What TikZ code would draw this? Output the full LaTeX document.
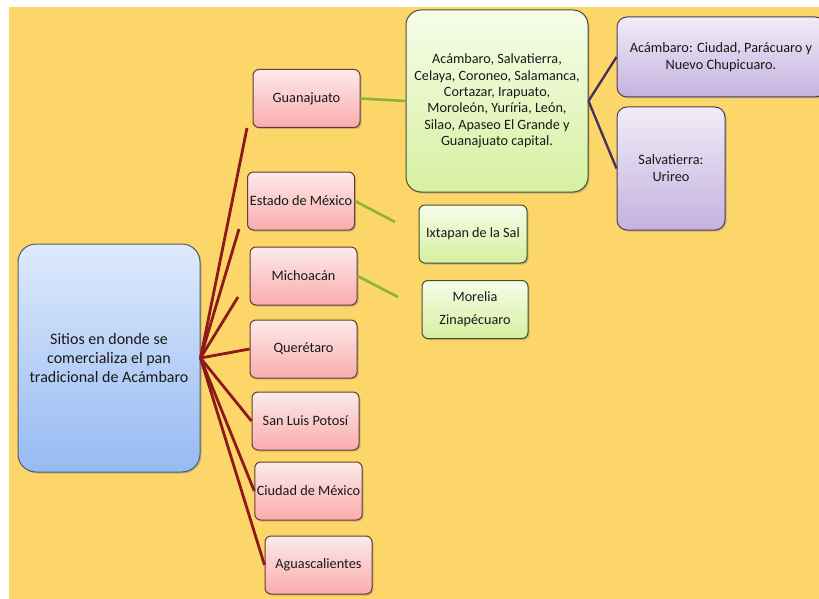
\documentclass[tikz,border=0pt]{standalone}
\usepackage{fontspec}
\setmainfont{Carlito}
\usetikzlibrary{shadows}

\definecolor{bgyellow}{RGB}{252,214,104}
\definecolor{pinktop}{RGB}{252,234,234}
\definecolor{pinkbot}{RGB}{250,172,172}
\definecolor{pinkline}{RGB}{100,60,50}
\definecolor{greentop}{RGB}{247,252,234}
\definecolor{greenbot}{RGB}{214,240,160}
\definecolor{greenline}{RGB}{70,80,40}
\definecolor{violettop}{RGB}{241,236,248}
\definecolor{violetbot}{RGB}{196,178,222}
\definecolor{violetline}{RGB}{80,60,90}
\definecolor{bluetop}{RGB}{222,234,252}
\definecolor{bluebot}{RGB}{150,186,242}
\definecolor{blueline}{RGB}{80,90,110}
\definecolor{redlink}{RGB}{140,26,26}
\definecolor{greenlink}{RGB}{140,180,60}
\definecolor{violetlink}{RGB}{70,45,90}

\begin{document}
\begin{tikzpicture}[x=1pt,y=-1pt,
  box/.style={rectangle, line width=1pt, align=center, inner sep=2pt, text=black!90,
    drop shadow={shadow xshift=1.5pt, shadow yshift=-1.5pt, opacity=0.4}},
  statebox/.style={box, rounded corners=6pt, top color=pinktop, bottom color=pinkbot,
    draw=pinkline, minimum width=107pt, minimum height=58pt, font=\fontsize{14.3}{16}\selectfont},
  citybox/.style={box, rounded corners=6pt, top color=greentop, bottom color=greenbot,
    draw=greenline, font=\fontsize{14.2}{16.4}\selectfont},
  townbox/.style={box, rounded corners=10pt, top color=violettop, bottom color=violetbot,
    draw=violetline, font=\fontsize{14.3}{17}\selectfont},
  redline/.style={redlink, line width=2.8pt},
  greenedge/.style={greenlink, line width=2.6pt},
  violetedge/.style={violetlink, line width=2.3pt}]

        % Background
        \useasboundingbox (0,0) rectangle (819,599);
        \fill[bgyellow] (9,7) rectangle (819,599);

        % Root node
        \node[box, rounded corners=18pt, top color=bluetop, bottom color=bluebot, draw=blueline,
          minimum width=182pt, minimum height=228pt, font=\fontsize{16}{19}\selectfont]
          (root) at (109,358) {Sitios en donde se\\comercializa el pan\\tradicional de Acámbaro};

        % States
        \node[statebox] (guan) at (306.5,98.5) {Guanajuato};
        \node[statebox] (edomex) at (301,201) {Estado de México};
        \node[statebox] (mich) at (303.5,276) {Michoacán};
        \node[statebox] (quer) at (303.5,349) {Querétaro};
        \node[statebox] (slp) at (305.5,421) {San Luis Potosí};
        \node[statebox] (cdmx) at (308.5,491) {Ciudad de México};
        \node[statebox] (ags) at (318.5,565) {Aguascalientes};

        % Cities
        \node[citybox, rounded corners=15pt, minimum width=182pt, minimum height=182pt] (gtocities) at (497,101)
          {Acámbaro, Salvatierra,\\Celaya, Coroneo, Salamanca,\\Cortazar, Irapuato,\\Moroleón, Yuríria, León,\\Silao, Apaseo El Grande y\\Guanajuato capital.};
        \node[citybox, minimum width=108pt, minimum height=58pt] (ixtapan) at (473,234) {Ixtapan de la Sal};
        \node[citybox, minimum width=106pt, minimum height=58pt, font=\fontsize{14.2}{23}\selectfont]
          (morelia) at (475,309.5) {Morelia\\Zinapécuaro};

        % Towns
        \node[townbox, minimum width=208pt, minimum height=80pt] (acambaro) at (721,57)
          {Acámbaro: Ciudad, Parácuaro y\\Nuevo Chupicuaro.};
        \node[townbox, minimum width=108pt, minimum height=123pt] (salva) at (671,168.5)
          {Salvatierra:\\Urireo};

        % Free ends of short links
        \coordinate (guanend) at (247,128);
        \coordinate (edomexend) at (239,229);
        \coordinate (michend) at (238,297);
        \coordinate (ixtapanend) at (395,222);
        \coordinate (moreliaend) at (398,297);

        % Links from the root
        \draw[redline] (root.east) -- (guanend);
        \draw[redline] (root.east) -- (edomexend);
        \draw[redline] (root.east) -- (michend);
        \draw[redline] (root.east) -- (quer.west);
        \draw[redline] (root.east) -- (slp.west);
        \draw[redline] (root.east) -- (cdmx.west);
        \draw[redline] (root.east) -- (ags.west);

        % Links to the cities
        \draw[greenedge] (guan.east) -- (gtocities.west);
        \draw[greenedge] (edomex.east) -- (ixtapanend);
        \draw[greenedge] (mich.east) -- (moreliaend);

        % Links to the towns
        \draw[violetedge] (gtocities.east) -- (acambaro.west);
        \draw[violetedge] (gtocities.east) -- (salva.west);
      \end{tikzpicture}
\end{document}
